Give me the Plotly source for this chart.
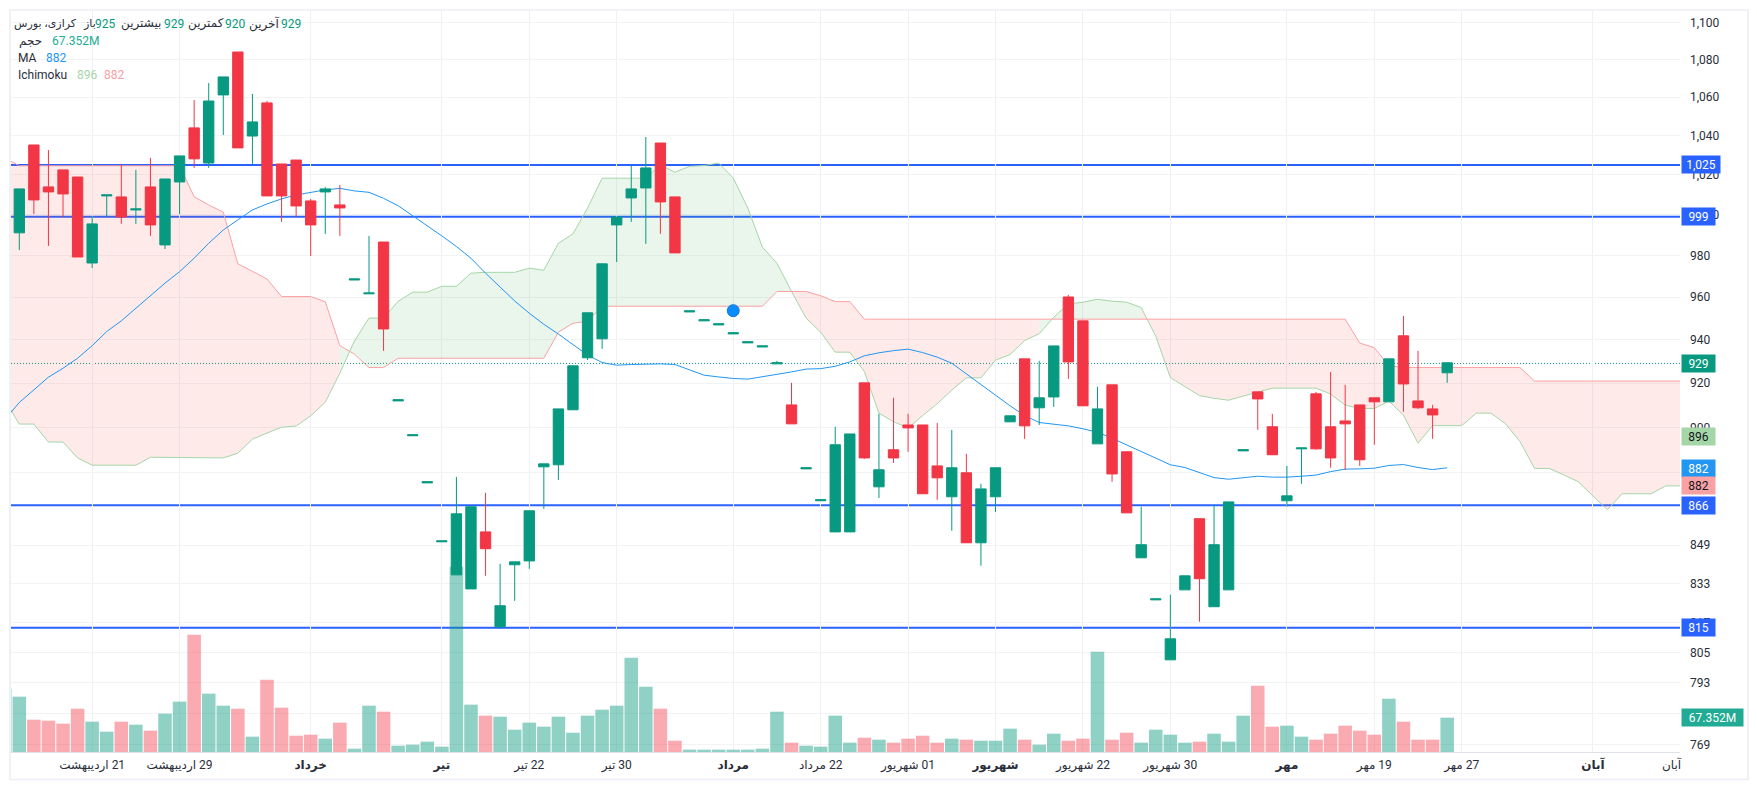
import math
import plotly.graph_objects as go

# ---------- data ----------
candle_index = list(range(0, 99))
open_prices = [991.1,1035.2,1013.9,1022.5,1018.9,976.4,1009.4,1008.9,1002.4,1013.9,985.2,1016.4,1044.0,1026.0,1061.2,1084.0,1039.8,1057.0,1025.5,1027.5,1006.9,1011.4,1004.9,968.2,961.6,
986.6,911.9,896.3,875.6,850.4,836.6,830.8,854.6,815.4,840.8,842.4,882.6,883.5,907.9,931.6,940.4,995.0,1008.4,1013.4,1036.2,1008.9,953.0,948.8,946.9,942.7,
938.5,936.6,928.8,910.1,881.7,867.9,854.6,854.6,920.1,873.9,890.1,901.1,901.1,883.0,869.6,880.0,850.0,869.6,902.5,931.1,908.8,913.7,960.1,948.8,892.7,
919.2,889.2,843.7,826.3,802.1,830.4,860.2,823.5,830.4,889.6,916.0,900.3,867.9,890.5,915.1,900.3,902.9,910.1,913.3,911.5,941.8,911.9,908.3,924.7]
high_prices = [1012.9,1035.2,1032.6,1022.5,1018.9,999.4,1009.9,1025.5,1022.5,1028.6,1017.9,1029.6,1058.5,1067.5,1070.7,1084.0,1061.7,1058.0,1025.5,1027.5,1007.9,1013.9,1014.9,968.7,989.6,
986.6,912.4,896.7,876.1,850.8,878.2,865.3,871.3,841.2,842.0,863.6,883.9,908.3,927.9,952.6,976.0,998.9,1025.0,1039.3,1036.2,1008.9,953.5,949.3,947.4,943.2,
939.0,937.1,930.2,920.1,882.2,868.3,900.3,897.1,920.1,906.1,913.3,906.1,901.1,902.0,898.9,888.3,875.2,882.2,905.2,931.1,930.2,937.1,961.1,948.8,918.3,
919.2,889.2,865.3,826.7,828.4,836.2,860.2,866.1,867.4,890.1,916.0,906.1,883.0,890.9,916.0,925.1,919.2,910.1,913.3,931.1,951.1,934.8,910.1,929.3]
low_prices = [982.7,1000.4,984.7,998.9,979.3,974.0,998.9,995.5,995.5,989.6,983.2,1000.4,1023.5,1023.5,1040.3,1033.7,1025.5,1009.4,996.5,998.9,979.8,990.6,989.6,968.2,961.6,
934.8,911.9,896.3,875.6,850.4,836.6,830.8,836.2,814.5,825.9,839.1,864.4,876.9,907.9,930.6,935.7,976.9,996.5,985.7,990.6,981.3,953.0,948.8,946.9,942.7,
938.5,936.6,928.8,901.6,881.7,867.9,854.6,854.6,886.1,869.1,884.3,889.2,870.9,868.3,855.1,850.0,840.4,863.1,902.5,894.9,901.1,909.2,921.9,909.7,892.7,
876.1,862.7,843.7,826.3,802.1,830.4,817.4,823.5,830.4,889.6,898.9,887.9,865.3,875.2,890.1,882.2,881.3,883.0,892.3,911.5,907.0,908.3,894.9,920.1]
close_prices = [1012.9,1007.4,1011.4,1010.4,979.3,995.5,1009.9,998.9,1002.9,995.0,1017.9,1029.6,1028.1,1058.0,1070.7,1033.7,1047.1,1009.4,1009.4,1004.4,995.0,1012.9,1003.4,968.7,962.0,
945.0,912.4,896.7,876.1,850.8,862.3,865.3,847.5,823.9,842.0,863.6,883.9,908.3,927.9,952.6,976.0,998.9,1012.9,1023.5,1006.4,981.3,953.5,949.3,947.4,943.2,
939.0,937.1,929.3,901.6,882.2,868.3,892.3,897.1,886.5,881.3,886.5,899.8,870.9,877.8,882.2,850.0,873.0,882.2,905.2,900.7,913.3,937.1,929.7,909.7,908.3,
879.5,862.7,849.2,826.7,810.5,836.2,835.0,849.2,867.4,890.1,912.8,887.9,870.0,890.9,890.5,886.5,901.6,885.7,911.5,931.1,919.6,908.8,905.6,929.3]

volume_index = list(range(-1, 99))
volumes_m = [124.3,108.6,63.4,61.5,55.6,85.0,59.5,39.9,59.5,53.6,41.9,75.2,98.8,230.2,114.5,90.9,85.0,30.1,141.9,87.0,32.0,34.0,26.2,57.6,6.5,90.9,79.1,12.4,14.4,20.3,10.5,363.6,92.9,71.3,69.3,43.8,57.6,49.7,69.3,37.9,71.3,83.1,90.9,185.1,128.2,85.0,22.2,4.6,4.6,4.6,4.6,4.6,6.5,79.1,18.3,12.4,10.5,71.3,18.3,28.1,24.2,18.3,26.2,32.0,18.3,26.2,24.2,22.2,22.2,45.8,24.2,14.4,36.0,22.2,26.2,196.9,24.2,37.9,18.3,43.8,34.0,18.3,20.3,36.0,20.3,71.3,130.1,49.7,51.7,30.1,24.2,36.0,51.7,41.9,34.0,104.6,59.5,24.2,24.2,67.4]

ma_values = [903.4,911.2,916.9,922.7,926.8,931.4,937.2,943.8,948.8,954.8,961.1,966.7,972.2,978.7,986.0,992.5,997.5,1002.4,1005.4,1007.9,1009.9,1011.2,1012.4,1013.2,1011.9,
1011.2,1008.2,1004.5,999.6,994.5,989.6,984.4,978.7,971.5,964.6,958.2,952.4,947.2,942.6,937.6,932.9,929.4,928.2,928.5,928.8,928.8,928.5,926.0,923.6,922.8,
922.1,921.8,922.8,924.1,925.1,926.4,926.6,927.7,929.7,932.5,933.9,934.9,935.6,934.0,931.9,929.1,924.1,919.5,914.5,909.7,905.3,902.2,901.5,900.7,899.4,
897.9,895.2,892.3,889.2,886.4,883.5,882.3,880.0,877.9,877.2,877.7,878.5,878.1,878.1,878.5,879.0,880.5,881.6,881.7,882.0,883.2,883.6,882.3,881.4,882.2]

cloud_index = list(range(-1, 115))
senkou_a = [912.4,901.5,901.5,893.5,893.5,886.5,883.3,883.3,883.3,883.3,886.8,886.8,886.8,886.7,886.5,886.5,888.6,894.8,897.5,900.1,900.6,905.2,911.3,924.5,939.4,
950.1,950.1,958.0,962.4,962.4,965.2,965.2,971.5,971.9,971.9,971.9,973.9,972.9,986.0,990.6,1003.3,1018.3,1018.3,1018.3,1018.3,1025.0,1021.3,1024.3,1024.7,1026.0,
1018.4,1003.4,984.1,976.3,962.7,950.1,943.5,934.2,934.2,925.3,906.4,902.6,899.7,905.3,910.7,916.8,922.4,922.4,930.5,933.1,939.6,942.8,950.5,956.8,957.6,
959.0,958.1,957.6,955.1,941.6,922.5,918.4,914.3,913.1,912.2,914.1,915.9,917.7,917.7,917.7,917.7,915.0,910.0,908.5,908.5,911.8,905.5,893.0,900.8,900.8,
900.8,906.4,906.4,901.7,893.7,881.9,881.9,879.1,876.1,870.0,864.0,870.9,870.9,870.9,874.3,874.3]
senkou_b = [1028.6,1024.6,1024.6,1024.6,1024.6,1024.6,1024.6,1024.6,1024.6,1024.6,1024.6,1024.6,1024.6,1009.0,1004.9,1001.3,976.0,972.4,968.7,960.3,960.3,960.3,957.8,937.2,933.3,
927.1,927.1,931.4,931.4,931.4,931.4,931.4,931.4,931.4,931.4,931.4,931.4,931.4,943.5,947.7,948.6,955.7,955.7,955.7,955.7,955.7,955.7,955.7,955.7,955.7,
955.7,955.7,955.7,962.7,962.7,962.7,960.7,957.9,957.9,949.6,949.6,949.6,949.6,949.6,949.6,949.6,949.6,949.6,949.6,949.6,949.6,949.6,949.6,949.6,949.6,
949.6,949.6,949.6,949.6,949.6,949.6,949.6,949.6,949.6,949.6,949.6,949.6,949.6,949.6,949.6,949.6,949.6,949.6,938.4,936.3,927.9,927.1,927.1,927.1,927.1,
927.1,927.1,927.1,927.1,927.1,920.9,920.9,920.9,920.9,920.9,920.9,920.9,920.9,920.9,920.9,920.9]

level_prices = [1025, 999, 866, 815]
level_labels = ["1,025", "999", "866", "815"]
last_price = 929
marker_index = [49]
marker_price = [953.6]

price_ticks = [1100,1080,1060,1040,1020,1000,980,960,940,920,900,880,849,833,817,805,793,781,769]
price_tick_labels = ["1,100","1,080","1,060","1,040","1,020","1,000","980","960","940","920","900","880","849","833","817","805","793","781","769"]

RLM = "\u200f"
time_ticks = [5, 11, 20, 29, 35, 41, 49, 55, 61, 67, 73, 79, 87, 93, 99, 108]
time_labels = [RLM+"21 اردیبهشت", RLM+"29 اردیبهشت", "<b>خرداد</b>", "<b>تیر</b>", RLM+"22 تیر", RLM+"30 تیر",
               "<b>مرداد</b>", RLM+"22 مرداد", RLM+"01 شهریور", "<b>شهریور</b>", RLM+"22 شهریور", RLM+"30 شهریور",
               "<b>مهر</b>", RLM+"19 مهر", RLM+"27 مهر", "<b>آبان</b>"]

# ---------- styling ----------
GREEN, RED, BLUE = "#089981", "#f23645", "#2962ff"
TXT = "#2a2e39"
FONT = "Roboto, 'DejaVu Sans', sans-serif"
L, R, T, B = 11, 1680, 10, 752      # plot box in the page
W, H = 1757, 790
px = lambda x: (x - L) / (R - L)
py = lambda y: 1 - (y - T) / (B - T)

fig = go.Figure()

# volume (lowest layer)
up = [c >= o for o, c in zip(open_prices, close_prices)]
bar_up = [True] + up
fig.add_trace(go.Bar(x=volume_index, y=volumes_m, width=0.93, xaxis="x", yaxis="y",
                     marker=dict(color=["rgba(8,153,129,0.45)" if u else "rgba(242,54,69,0.42)" for u in bar_up], line=dict(width=0)),
                     hoverinfo="skip", showlegend=False))

# ichimoku cloud: consecutive stretches of one colour
n = len(cloud_index)
seg_green = [senkou_a[i + 1] >= senkou_b[i + 1] for i in range(n - 1)]
i = 0
while i < n - 1:
    j = i
    while j + 1 < n - 1 and seg_green[j + 1] == seg_green[i]:
        j += 1
    xs = cloud_index[i:j + 2]
    fig.add_trace(go.Scatter(x=xs + xs[::-1], y=senkou_a[i:j + 2] + senkou_b[i:j + 2][::-1], xaxis="x", yaxis="y2",
                             mode="lines", line=dict(width=0), fill="toself",
                             fillcolor="rgba(67,160,71,0.11)" if seg_green[i] else "rgba(244,67,54,0.11)",
                             hoverinfo="skip", showlegend=False))
    i = j + 1
fig.add_trace(go.Scatter(x=cloud_index, y=senkou_a, xaxis="x", yaxis="y2", mode="lines", line=dict(color="#a5d6a7", width=1), hoverinfo="skip", showlegend=False))
fig.add_trace(go.Scatter(x=cloud_index, y=senkou_b, xaxis="x", yaxis="y2", mode="lines", line=dict(color="#faa1a4", width=1), hoverinfo="skip", showlegend=False))
fig.add_trace(go.Scatter(x=volume_index, y=ma_values, xaxis="x", yaxis="y2", mode="lines", line=dict(color="#2196f3", width=1), hoverinfo="skip", showlegend=False))

# candles above the indicators
fig.add_trace(go.Candlestick(x=candle_index, open=open_prices, high=high_prices, low=low_prices, close=close_prices,
                             xaxis="x", yaxis="y3", whiskerwidth=0,
                             increasing=dict(line=dict(color=GREEN, width=1), fillcolor=GREEN),
                             decreasing=dict(line=dict(color=RED, width=1), fillcolor=RED),
                             hoverinfo="skip", showlegend=False))
fig.add_trace(go.Scatter(x=marker_index, y=marker_price, xaxis="x", yaxis="y3", mode="markers",
                         marker=dict(size=12, color="#0a8cff", line=dict(color="#1478d4", width=1)), hoverinfo="skip", showlegend=False))

# horizontal levels and frame
shapes = [dict(type="rect", xref="paper", yref="paper", x0=px(10), x1=px(1748), y0=py(779.5), y1=py(10),
               line=dict(color="#eceef4", width=1.6), layer="below")]
for v in level_prices:
    shapes.append(dict(type="line", xref="paper", yref="y2", x0=0, x1=1, y0=v, y1=v, line=dict(color=BLUE, width=2), layer="below"))
shapes.append(dict(type="line", xref="paper", yref="y2", x0=0, x1=1, y0=last_price, y1=last_price,
                   line=dict(color=GREEN, width=1, dash="1px 2px"), layer="below"))

# text
ann = []
def label(x, y, text, color=TXT, anchor="left", size=12):
    ann.append(dict(xref="paper", yref="paper", x=px(x), y=py(y), xanchor=anchor, yanchor="middle", showarrow=False,
                    text=text, font=dict(family=FONT, size=size, color=color)))
VAL = "#089981"
label(45, 24, "کرازی، بورس", anchor="center", size=11)
label(89, 24, "باز", anchor="center", size=11)
label(93, 24, "925", VAL)
label(140.5, 24, "بیشترین", anchor="center")
label(162, 24, "929", VAL)
label(205.5, 24, "کمترین", anchor="center")
label(223, 24, "920", VAL)
label(264.5, 24, "آخرین", anchor="center")
label(279, 24, "929", VAL)
label(30.5, 41, "حجم", anchor="center")
label(50, 41, "67.352M", "#22ab94")
label(16, 58, "MA")
label(44, 58, "882", "#2196f3")
label(16, 75, "Ichimoku")
label(75, 75, "896", "#a5d6a7")
label(102, 75, "882", "#faa1a4")
# last time label sits against the price scale
ann.append(dict(xref="x", yref="paper", x=113.4, y=py(764), xanchor="center", yanchor="middle", showarrow=False,
                text="آبان", font=dict(family=FONT, size=12, color=TXT)))

def tag(value, text, bg, fg="white", yref="y2", width=33, yshift=0):
    y = math.log10(value) if yref == "y2" else value
    ann.append(dict(xref="paper", yref=yref, x=px(1681), y=y, xanchor="left", yanchor="middle", showarrow=False, yshift=yshift,
                    text=text, bgcolor=bg, width=width, height=17, borderpad=0, align="center",
                    font=dict(family=FONT, size=12, color=fg)))
for v, s in zip(level_prices, level_labels):
    tag(v, s, BLUE, width=38 if "," in s else 33)
tag(last_price, str(last_price), GREEN)
tag(896, "896", "#a5d6a7", "#131722")
tag(882, "882", "#2196f3")
tag(882, "882", "#faa1a4", "#131722", yshift=-17)
tag(67.352, "67.352M", "#22ab94", yref="y", width=61)

y_log_range = [math.log10(766.3), math.log10(1106.8)]
fig.update_layout(
    width=W, height=H, margin=dict(l=L, r=W - R, t=T, b=H - B, autoexpand=False),
    paper_bgcolor="white", plot_bgcolor="white", showlegend=False, font=dict(family=FONT, size=12, color=TXT),
    shapes=shapes, annotations=ann, barmode="overlay", boxgap=0.29, boxgroupgap=0.0,
    xaxis=dict(range=[-0.57, 113.98], tickmode="array", tickvals=time_ticks, ticktext=time_labels, showgrid=True, gridcolor="#f0f1f4", gridwidth=1,
               zeroline=False, showline=True, linecolor="#dfe1e8", linewidth=1, ticks="", rangeslider=dict(visible=False),
               tickangle=0, ticklabelstandoff=2, tickfont=dict(family=FONT, size=12, color=TXT), anchor="y"),
    yaxis=dict(range=[0, 1455.8], visible=False, showgrid=False, zeroline=False, fixedrange=True),
    yaxis2=dict(type="log", range=y_log_range, overlaying="y", side="right", anchor="x", tickmode="array", tickvals=price_ticks, ticktext=price_tick_labels,
                showgrid=True, gridcolor="#f2f3f5", gridwidth=1, zeroline=False, showline=False, ticks="", ticklabelstandoff=9,
                tickfont=dict(family=FONT, size=12, color=TXT)),
    yaxis3=dict(type="log", range=y_log_range, overlaying="y", side="right", visible=False, showgrid=False, zeroline=False),
)
fig.write_html("out.html", config=dict(displayModeBar=False),
               post_script="document.body.style.margin='0';document.documentElement.style.overflow='hidden';")
